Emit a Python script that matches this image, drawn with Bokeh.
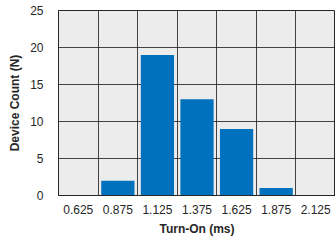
from bokeh.plotting import figure
from bokeh.models import FixedTicker, Range1d
from bokeh.embed import file_html
from bokeh.resources import INLINE

categories = ["0.625", "0.875", "1.125", "1.375", "1.625", "1.875", "2.125"]
counts = [0, 2, 19, 13, 9, 1, 0]
y_ticks = [0, 5, 10, 15, 20, 25]
bin_edges = [0.5, 0.75, 1.0, 1.25, 1.5, 1.75, 2.0, 2.25]

centers = [float(c) for c in categories]

p = figure(width=328, height=234, output_backend="svg", toolbar_location=None,
           x_range=Range1d(bin_edges[0], bin_edges[-1]), y_range=Range1d(0, 25),
           frame_width=277, frame_height=185,
           min_border_left=58, min_border_right=0, min_border_top=10, min_border_bottom=0)

p.background_fill_color = "#ececec"
p.border_fill_color = "white"
p.outline_line_color = "#262626"

p.vbar(x=centers, top=counts, width=0.21, color="#0072bd", line_color=None)

p.xaxis.ticker = FixedTicker(ticks=centers)
p.xaxis.major_label_overrides = {c: s for c, s in zip(centers, categories)}
p.xgrid.ticker = FixedTicker(ticks=bin_edges[1:-1])
p.yaxis.ticker = FixedTicker(ticks=y_ticks)
p.ygrid.ticker = FixedTicker(ticks=y_ticks)

for g in (p.xgrid, p.ygrid):
    g.grid_line_color = "#262626"
    g.grid_line_width = 1
    g.grid_line_alpha = 0.85

for ax in (p.xaxis, p.yaxis):
    ax.axis_line_color = "#262626"
    ax.major_tick_line_color = None
    ax.minor_tick_line_color = None
    ax.major_label_text_font = "Liberation Sans"
    ax.major_label_text_font_size = "12px"
    ax.major_label_text_color = "#262626"
    ax.axis_label_text_font = "Liberation Sans"
    ax.axis_label_text_font_size = "12px"
    ax.axis_label_text_font_style = "bold"
    ax.axis_label_text_color = "#262626"

p.xaxis.axis_label = "Turn-On (ms)"
p.yaxis.axis_label = "Device Count (N)"
p.xaxis.major_label_standoff = 3
p.xaxis.axis_label_standoff = 5
p.yaxis.major_label_standoff = 9
p.yaxis.axis_label_standoff = 5

open("out.html", "w").write(file_html(p, INLINE))
